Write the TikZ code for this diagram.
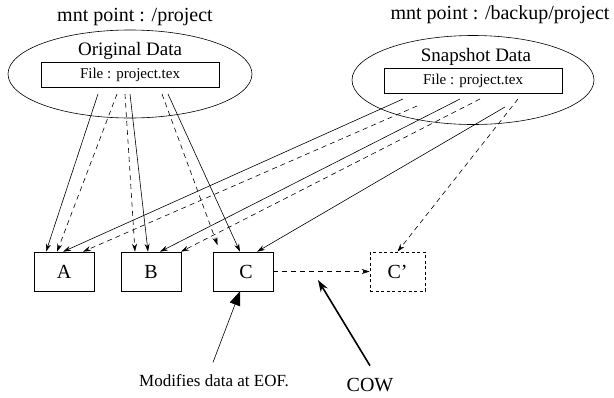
\documentclass[tikz,border=0pt]{standalone}
\usepackage{fontspec}
\setmainfont{Liberation Serif}
\usetikzlibrary{shapes.geometric,arrows.meta,positioning}

\begin{document}
\begin{tikzpicture}
	[ x=1pt, y=-1pt,
	  cloud/.style={ draw, ellipse, line width=0.6pt, inner sep=0pt },
	  file/.style={ draw, rectangle, minimum width=178pt, minimum height=25pt,
	  font=\fontsize{15}{17}\selectfont, line width=0.6pt },
	  blk/.style={ draw, rectangle, minimum width=60pt, minimum height=39pt,
	  font=\fontsize{20}{22}\selectfont, line width=0.6pt },
	  lbl/.style={ font=\fontsize{20}{22}\selectfont },
	  ln/.style={ line width=0.6pt, -{Stealth[length=8pt,width=5pt]} },
	  dl/.style={ ln, dash pattern=on 5pt off 4pt },
	]
	\useasboundingbox (0,0) rectangle (614,397);

	% mount points
	\node[cloud, minimum width=244pt, minimum height=88pt] (orig) at (130,74) {};
	\node[cloud, minimum width=242pt, minimum height=89pt] (snap) at (473,80) {};
	\node[lbl] (origmnt) at (135,17) {mnt point : /project};
	\node[lbl] (snapmnt) at (500,15) {mnt point : /backup/project};
	\node[lbl, font=\fontsize{19}{21}\selectfont] (origtxt) at (130,51) {Original Data};
	\node[lbl, font=\fontsize{19}{21}\selectfont] (snaptxt) at (476,57) {Snapshot Data};
	\node[file] (origfile) at (130,74.5) {File : project.tex};
	\node[file] (snapfile) at (473,80.5) {File : project.tex};

	% blocks
	\node[blk] (A) at (64,271.5) {A};
	\node[blk] (B) at (151,271.5) {B};
	\node[blk] (C) at (243,271.5) {\hspace{6pt}C};
	\node[blk, minimum width=55pt, dash pattern=on 3pt off 2.5pt] (Cp) at (397.5,271.5) {C'};

	% start points
	\coordinate (o1) at (98,94);
	\coordinate (o2) at (117,94);
	\coordinate (o3) at (125,94);
	\coordinate (o4) at (130,94);
	\coordinate (o5) at (162,94);
	\coordinate (o6) at (168,94);
	\coordinate (s1) at (403,99);
	\coordinate (s2) at (417,106);
	\coordinate (s3) at (460,99);
	\coordinate (s4) at (480,99);
	\coordinate (s5) at (505,107);
	\coordinate (s6) at (518,99);

	% original data
	\draw[ln] (o1) -- ([xshift=-18pt]A.north);
	\draw[dl] (o2) -- ([xshift=-7pt]A.north);
	\draw[dl] (o3) -- ([xshift=-16pt]B.north);
	\draw[ln] (o4) -- ([xshift=-3pt]B.north);
	\draw[dl, shorten >=7pt] (o5) -- ([xshift=-23pt]C.north);
	\draw[ln] (o6) -- ([xshift=-3pt]C.north);

	% snapshot data
	\draw[ln] (s1) -- ([xshift=-1pt]A.north);
	\draw[dl] (s2) -- ([xshift=19pt]A.north);
	\draw[ln] (s3) -- ([xshift=9pt]B.north);
	\draw[dl] (s4) -- ([xshift=30pt]B.north);
	\draw[ln] (s5) -- ([xshift=14pt]C.north);
	\draw[dl] (s6) -- (Cp.north);

	% copy on write
	\draw[dl] (C.east) -- (Cp.west);

	\node[font=\fontsize{17}{19}\selectfont] (mod) at (214,381) {Modifies data at EOF.};
	\node[lbl] (cow) at (370,385) {COW};
	\draw[line width=0.6pt, -{Triangle[length=14pt,width=11pt]}]
		([xshift=-1pt, yshift=9pt]mod.north) -- ([xshift=-3pt]C.south);
	\draw[line width=1.6pt, -{Stealth[length=12pt,width=8pt]}]
		([yshift=9pt]cow.north) -- (318,280);
\end{tikzpicture}
\end{document}
